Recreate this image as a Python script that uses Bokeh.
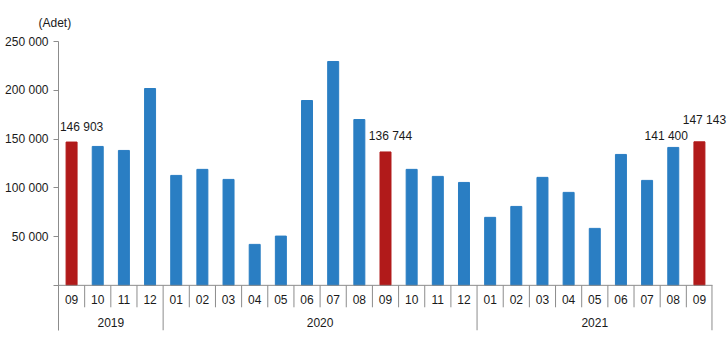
from bokeh.plotting import figure
from bokeh.models import Range1d, ColumnDataSource, FixedTicker
from bokeh.core.properties import value
from bokeh.embed import file_html
from bokeh.resources import INLINE

# ---- data ----
years = ["2019"] * 4 + ["2020"] * 12 + ["2021"] * 9
months = ["09", "10", "11", "12",
          "01", "02", "03", "04", "05", "06", "07", "08", "09", "10", "11", "12",
          "01", "02", "03", "04", "05", "06", "07", "08", "09"]
counts = [146903, 142400, 138300, 201800,
          112700, 118900, 108600, 42000, 50500, 189500, 229500, 170000, 136744, 118900, 111700, 105500,
          69700, 80900, 110700, 95300, 58400, 134200, 107600, 141400, 147143]
labelled = [True, False, False, False,
            False, False, False, False, False, False, False, False, True, False, False, False,
            False, False, False, False, False, False, False, True, True]
highlight_month = "09"
y_ticks = [0, 50000, 100000, 150000, 200000, 250000]
y_tick_labels = ["", "50 000", "100 000", "150 000", "200 000", "250 000"]
unit_label = "(Adet)"

# ---- style ----
BLUE = "#2A7EC3"
RED = "#B11A1A"
GRAY = "#8C8C8C"
TXT = "#1A1A1A"
FONT = "Liberation Sans"
FS = "12px"
Y_BOTTOM = -46300

n = len(counts)
pos = [i + 0.5 for i in range(n)]          # category centres on a numeric axis
colors = [RED if m == highlight_month else BLUE for m in months]

# frame runs to the right edge so the last value label is not clipped;
# categories occupy [0, n] (654 px), the extra room is empty space
p = figure(width=728, height=352, output_backend="svg", toolbar_location=None,
           x_range=Range1d(0, n * 670 / 654), y_range=Range1d(Y_BOTTOM, 250000),
           min_border_left=58, min_border_right=0, min_border_top=41, min_border_bottom=22)
p.outline_line_color = None
p.grid.visible = False
p.background_fill_color = "white"
p.border_fill_color = "white"

# title as unit label
p.title.text = unit_label
p.title.text_font = FONT
p.title.text_font_size = FS
p.title.text_font_style = "normal"
p.title.text_color = TXT
p.title.align = "left"
p.title.offset = -20
p.title.standoff = 23

# y axis
p.yaxis.ticker = FixedTicker(ticks=y_ticks)
p.yaxis.major_label_overrides = {t: l for t, l in zip(y_ticks, y_tick_labels)}
p.yaxis.axis_line_color = GRAY
p.yaxis.major_tick_line_color = GRAY
p.yaxis.major_tick_out = 5
p.yaxis.major_tick_in = 0
p.yaxis.minor_tick_line_color = None
p.yaxis.major_label_standoff = 5
p.yaxis.major_label_text_font = FONT
p.yaxis.major_label_text_font_size = FS
p.yaxis.major_label_text_color = TXT
p.xaxis.visible = False

src = ColumnDataSource(dict(x=pos, y=counts, color=colors, month=months))
p.vbar(x="x", top="y", width=0.42, color="color", source=src)

# horizontal axis line at zero across the categories
p.segment(x0=[0], y0=[0], x1=[n], y1=[0], line_color=GRAY, line_width=1)

# separators between categories (short) and between years (long)
sep_x, sep_y1 = [], []
for i in range(n):
    last_of_year = (i == n - 1) or (years[i + 1] != years[i])
    sep_x.append(i + 1 - (0.02 if i == n - 1 else 0))
    sep_y1.append(Y_BOTTOM if last_of_year else -22500)
p.segment(x0="x", y0=0, x1="x", y1="y1", line_color=GRAY, line_width=1,
          source=ColumnDataSource(dict(x=sep_x, y1=sep_y1)))

# month labels
p.text(x="x", y=0, text="month", source=src, text_align="center", text_baseline="middle",
       y_offset=14, text_font=value(FONT), text_font_size=FS, text_color=TXT)

# year labels centred under their groups
yl_x, yl_t = [], []
for yr in dict.fromkeys(years):
    idx = [i for i, y in enumerate(years) if y == yr]
    yl_x.append((idx[0] + idx[-1] + 1) / 2)
    yl_t.append(yr)
p.text(x="x", y=0, text="t", source=ColumnDataSource(dict(x=yl_x, t=yl_t)),
       text_align="center", text_baseline="middle", y_offset=37,
       text_font=value(FONT), text_font_size=FS, text_color=TXT)

# value labels
lab_idx = [i for i, v in enumerate(labelled) if v]
dx = [10, 5, -7, 5]
dy = [-8, -9, -4, -15]
lab = dict(x=[pos[i] for i in lab_idx], y=[counts[i] for i in lab_idx],
           t=[f"{counts[i]:,}".replace(",", " ") for i in lab_idx], dx=dx, dy=dy)
p.text(x="x", y="y", text="t", x_offset="dx", y_offset="dy", source=ColumnDataSource(lab),
       text_align="center", text_baseline="bottom",
       text_font=value(FONT), text_font_size=FS, text_color=TXT)

open("out.html", "w").write(file_html(p, INLINE))
